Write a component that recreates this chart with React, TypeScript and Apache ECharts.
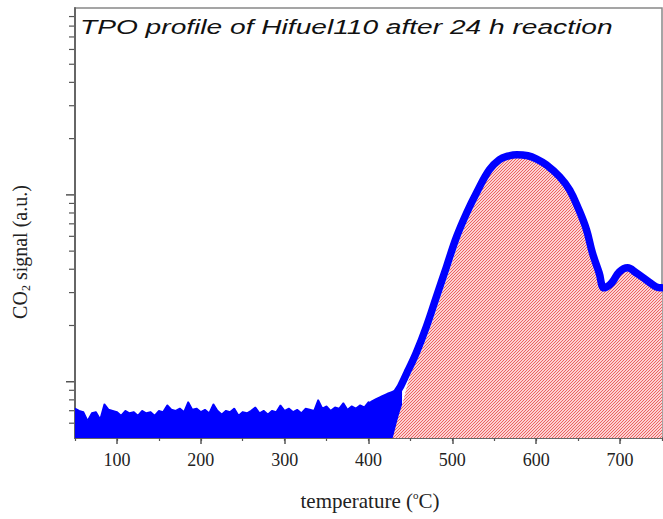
import React, { useEffect, useRef } from 'react';
import * as echarts from 'echarts';

// x tick labels (°C)
const xMajorTicks = [100, 200, 300, 400, 500, 600, 700];
// log y-axis ticks (no labels in the original)
const yMajorTicks = [1, 10];
const yMinorTicks = [0.6, 0.7, 0.8, 0.9, 2, 3, 4, 5, 6, 7, 8, 9, 20, 30, 40, 50, 60, 70, 80, 90];

// baseline noise band (upper envelope, filled to the axis bottom)
const noiseT = [50, 55, 60, 65, 70, 75, 80, 85, 90, 95, 100, 105, 110, 115, 120, 125, 130, 135, 140, 145, 150, 155, 160, 165, 170, 175, 180, 185, 190, 195, 200, 205, 210, 215, 220, 225, 230, 235, 240, 245, 250, 255, 260, 265, 270, 275, 280, 285, 290, 295, 300, 305, 310, 315, 320, 325, 330, 335, 340, 345, 350, 355, 360, 365, 370, 375, 380, 385, 390, 395, 400, 405, 410, 415, 420, 425, 430, 435, 440];
const noiseV = [0.72, 0.70, 0.69, 0.62, 0.68, 0.69, 0.63, 0.76, 0.71, 0.70, 0.69, 0.66, 0.70, 0.68, 0.69, 0.66, 0.70, 0.68, 0.69, 0.66, 0.70, 0.69, 0.75, 0.71, 0.70, 0.72, 0.69, 0.78, 0.71, 0.72, 0.69, 0.71, 0.68, 0.76, 0.70, 0.67, 0.70, 0.69, 0.72, 0.66, 0.69, 0.68, 0.70, 0.73, 0.68, 0.70, 0.67, 0.70, 0.69, 0.75, 0.70, 0.72, 0.69, 0.71, 0.68, 0.72, 0.71, 0.70, 0.80, 0.72, 0.74, 0.70, 0.73, 0.72, 0.77, 0.71, 0.74, 0.72, 0.75, 0.73, 0.78, 0.75, 0.78, 0.80, 0.82, 0.85, 0.88, 0.92, 0.96];

// CO2 signal (blue curve)
const signalT = [405, 415, 425, 434, 446, 457, 469, 481, 493, 505, 517, 529, 544, 556, 566, 577, 590, 600, 612, 628, 640, 651, 660, 667, 675, 681, 690, 699, 709, 719, 731, 743, 750];
const signalV = [0.76, 0.80, 0.84, 0.88, 1.12, 1.43, 1.97, 2.85, 4.12, 5.96, 8.0, 10.3, 13.6, 15.4, 16.1, 16.4, 16.2, 15.6, 14.5, 12.5, 10.6, 8.3, 6.5, 4.9, 3.83, 3.18, 3.38, 3.87, 4.07, 3.83, 3.51, 3.22, 3.18];

// integrated (hatched) area
const fillT = [429, 436, 441, 446, 451, 462, 474, 486, 498, 510, 522, 534, 544, 556, 566, 577, 590, 600, 612, 628, 640, 651, 660, 667, 675, 681, 690, 699, 709, 719, 731, 743, 750];
const fillV = [0.5, 0.66, 0.78, 0.95, 1.12, 1.43, 1.97, 2.85, 4.12, 5.96, 8.0, 10.3, 13.0, 15.0, 15.7, 16.0, 15.8, 15.2, 14.2, 12.3, 10.4, 8.2, 6.4, 4.85, 3.8, 3.15, 3.3, 3.75, 3.95, 3.75, 3.45, 3.15, 3.12];

const AXIS_COLOR = '#666';
const SERIF = 'Liberation Serif';

export default function App() {
  const ref = useRef<HTMLDivElement>(null);

  useEffect(() => {
    const chart = echarts.init(ref.current!, null, { renderer: 'svg' });

    const cv = document.createElement('canvas');
    cv.width = 3;
    cv.height = 3;
    const ctx = cv.getContext('2d')!;
    ctx.fillStyle = '#fcd2d2';
    ctx.fillRect(0, 0, 3, 3);
    ctx.strokeStyle = '#ec6262';
    ctx.lineWidth = 1;
    ctx.beginPath();
    ctx.moveTo(0, 3); ctx.lineTo(3, 0);
    ctx.moveTo(-1, 1); ctx.lineTo(1, -1);
    ctx.moveTo(2, 4); ctx.lineTo(4, 2);
    ctx.stroke();

    const hatch: any = { image: cv, repeat: 'repeat', imageWidth: 3, imageHeight: 3 };

    chart.setOption({
      animation: false,
      backgroundColor: '#fff',
      grid: { left: 75, right: 1, top: 8, bottom: 81, show: true, borderColor: '#888', borderWidth: 1.5, backgroundColor: 'transparent' },
      xAxis: [
        {
          type: 'value', min: 50, max: 750, interval: 50,
          axisLine: { show: true, onZero: false, lineStyle: { color: AXIS_COLOR, width: 2 } },
          axisTick: { show: true, length: 3, lineStyle: { color: '#555', width: 1.2 } },
          axisLabel: { show: false },
          splitLine: { show: false },
        },
        {
          type: 'value', min: 50, max: 750, position: 'bottom',
          axisLine: { show: false },
          axisTick: { show: true, length: 6, customValues: xMajorTicks, lineStyle: { color: '#555', width: 1.5 } },
          axisLabel: { show: true, customValues: xMajorTicks, fontFamily: SERIF, fontSize: 18, color: '#222', margin: 13 },
          splitLine: { show: false },
        },
      ],
      yAxis: {
        type: 'log', logBase: 10, min: 0.5, max: 100,
        axisLine: { show: true, lineStyle: { color: AXIS_COLOR, width: 2 } },
        axisTick: { show: false },
        axisLabel: { show: false },
        splitLine: { show: false },
        minorTick: { show: false },
      },
      series: [
        {
          name: 'noise', type: 'line', z: 1,
          data: noiseT.map((t, i) => [t, noiseV[i]]),
          showSymbol: false,
          lineStyle: { color: '#0000ff', width: 1.5 },
          areaStyle: { color: '#0000ff', opacity: 1, origin: 'start' },
        },
        {
          name: 'area', type: 'line', z: 2, smooth: 0.3,
          data: fillT.map((t, i) => [t, fillV[i]]),
          showSymbol: false,
          lineStyle: { width: 0 },
          areaStyle: { color: hatch, opacity: 1, origin: 'start' },
        },
        {
          name: 'signal', type: 'line', z: 3, smooth: 0.4,
          data: signalT.map((t, i) => [t, signalV[i]]),
          showSymbol: false,
          lineStyle: { color: '#0000ff', width: 7.5, cap: 'round', join: 'round' },
        },
      ],
    });

    const x0 = chart.convertToPixel({ xAxisIndex: 0 }, 50) as number;
    const tickLines: any[] = [];
    yMajorTicks.forEach((v) => {
      const y = chart.convertToPixel({ yAxisIndex: 0 }, v) as number;
      tickLines.push({ type: 'line', shape: { x1: x0 - 9, y1: y, x2: x0, y2: y }, style: { stroke: '#555', lineWidth: 1.5 } });
    });
    yMinorTicks.forEach((v) => {
      const y = chart.convertToPixel({ yAxisIndex: 0 }, v) as number;
      tickLines.push({ type: 'line', shape: { x1: x0 - 6, y1: y, x2: x0, y2: y }, style: { stroke: '#555', lineWidth: 1.2 } });
    });

    chart.setOption({
      graphic: [
        ...tickLines,
        {
          type: 'text', x: 80, y: 27, scaleX: 1.34, z: 10,
          style: {
            text: 'TPO profile of Hifuel110 after 24 h reaction',
            fontFamily: 'Liberation Sans', fontStyle: 'italic', fontSize: 21,
            fill: '#111', align: 'left', verticalAlign: 'middle', textAlign: 'left', textVerticalAlign: 'middle',
          },
        },
        {
          type: 'text', x: 370, y: 501, z: 10,
          style: {
            text: '{a|temperature (}{o|o}{a|C)}',
            align: 'center', verticalAlign: 'middle', textAlign: 'center', textVerticalAlign: 'middle',
            rich: {
              a: { fontFamily: SERIF, fontSize: 21, fill: '#222', lineHeight: 24 },
              o: { fontFamily: SERIF, fontSize: 11, fill: '#222', verticalAlign: 'top', lineHeight: 24 },
            },
          },
        },
        {
          type: 'text', x: 20, y: 252, rotation: Math.PI / 2, z: 10,
          style: {
            text: '{a|CO}{s|2}{a| signal (a.u.)}',
            align: 'center', verticalAlign: 'middle', textAlign: 'center', textVerticalAlign: 'middle',
            rich: {
              a: { fontFamily: SERIF, fontSize: 20, fill: '#222', lineHeight: 24 },
              s: { fontFamily: SERIF, fontSize: 12, fill: '#222', verticalAlign: 'bottom', lineHeight: 24 },
            },
          },
        },
      ],
    });

    return () => chart.dispose();
  }, []);

  return <div ref={ref} style={{ position: 'absolute', left: 0, top: 0, width: 663, height: 519 }} />;
}
